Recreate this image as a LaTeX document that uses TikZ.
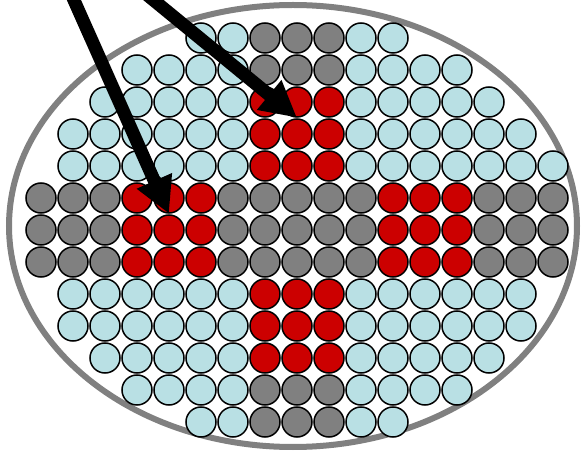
\documentclass[tikz,border=0pt]{standalone}
\usepackage{tikz}
\usetikzlibrary{arrows.meta}
\definecolor{rodblue}{RGB}{185,224,228}
\definecolor{rodgray}{RGB}{128,128,128}
\definecolor{rodred}{RGB}{204,0,0}
\begin{document}
\begin{tikzpicture}[x=1pt,y=-1pt,
  rod/.style={circle, draw=black, line width=1.5pt, minimum size=30pt, inner sep=0pt},
  pointer/.style={line width=13pt, -{Triangle[length=36pt,width=36pt]}}]
\useasboundingbox (0,0) rectangle (587,457);
\clip (0,0) rectangle (587,457);
\draw[rodgray, line width=6pt] (293,226) ellipse [x radius=284, y radius=221];
\foreach \r/\a/\b/\k in {0/5/6/rodblue, 0/10/11/rodblue, 12/5/6/rodblue, 12/10/11/rodblue,
  1/3/6/rodblue, 1/10/13/rodblue, 11/3/6/rodblue, 11/10/13/rodblue,
  2/2/6/rodblue, 2/10/14/rodblue, 10/2/6/rodblue, 10/10/14/rodblue,
  3/1/6/rodblue, 3/10/15/rodblue, 8/1/6/rodblue, 8/10/15/rodblue,
  9/1/6/rodblue, 9/10/15/rodblue, 4/1/6/rodblue, 4/10/16/rodblue,
  0/7/9/rodgray, 1/7/9/rodgray, 11/7/9/rodgray, 12/7/9/rodgray,
  5/0/2/rodgray, 6/0/2/rodgray, 7/0/2/rodgray, 5/6/10/rodgray, 6/6/10/rodgray, 7/6/10/rodgray,
  5/14/16/rodgray, 6/14/16/rodgray, 7/14/16/rodgray,
  2/7/9/rodred, 3/7/9/rodred, 4/7/9/rodred, 8/7/9/rodred, 9/7/9/rodred, 10/7/9/rodred,
  5/3/5/rodred, 6/3/5/rodred, 7/3/5/rodred, 5/11/13/rodred, 6/11/13/rodred, 7/11/13/rodred}
  \foreach \c in {\a,...,\b}
    \node[rod, fill=\k] (c-\r-\c) at ({41+32*\c},{38+32*\r}) {};
\coordinate (from1) at (65,-20);
\coordinate (from2) at (129,-20);
\draw[pointer] (from1) -- (c-5-4.south);
\draw[pointer] (from2) -- (c-2-8.south);
\end{tikzpicture}
\end{document}
